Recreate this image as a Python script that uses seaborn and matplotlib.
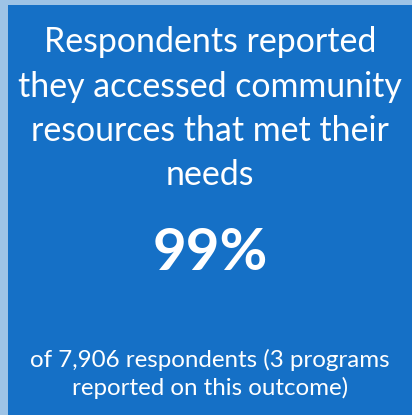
import matplotlib
matplotlib.use("Agg")
import matplotlib.pyplot as plt
import seaborn as sns
from matplotlib.patches import Rectangle

sns.set_theme(style="white")
plt.rcParams['font.family'] = ['Lato', 'DejaVu Sans']

title_lines = ["Respondents reported", "they accessed community",
               "resources that met their", "needs"]
percent_value = 99
respondents = 7906
programs = 3
footer_lines = [f"of {respondents:,} respondents ({programs} programs",
                "reported on this outcome)"]

W, H = 412, 415
fig = plt.figure(figsize=(W / 100, H / 100), dpi=100)
fig.patch.set_facecolor("#9DC3E6")
ax = fig.add_axes([0, 0, 1, 1])
ax.set_xlim(0, W)
ax.set_ylim(H, 0)
ax.axis("off")
ax.add_patch(Rectangle((8, 5), W - 8, H - 5, facecolor="#1570C6", edgecolor="none"))

cx = (8 + W) / 2
title_y = [42, 87, 131, 175]
for y, t in zip(title_y, title_lines):
    ax.text(cx, y, t, ha="center", va="center", color="white", fontsize=24.4)

ax.text(cx, 253, f"{percent_value}%", ha="center", va="center", color="white",
        fontsize=42, fontweight="bold")

footer_y = [360, 388]
for y, t in zip(footer_y, footer_lines):
    ax.text(cx, y, t, ha="center", va="center", color="white", fontsize=17.4)

fig.savefig("out.png", dpi=100)
